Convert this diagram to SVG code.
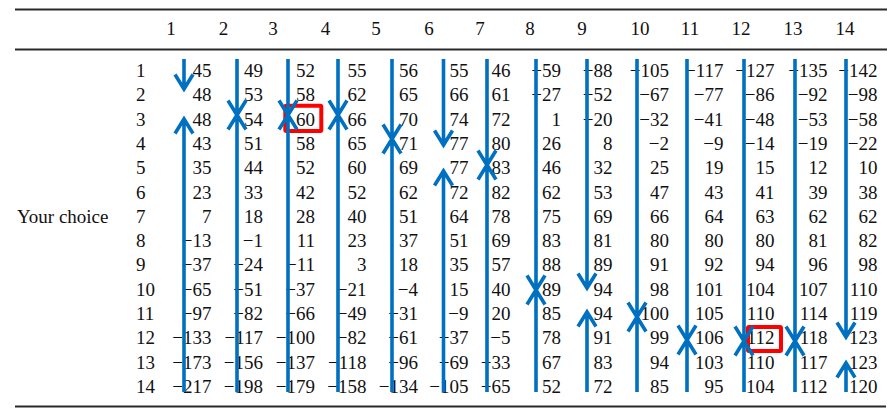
<svg xmlns="http://www.w3.org/2000/svg" width="890" height="413" viewBox="0 0 890 413">
<style>
text{font-family:"Liberation Serif","Times New Roman",serif;font-size:19px;fill:#111}
.h{text-anchor:middle}
.v{text-anchor:end}
.rule{stroke:#2a2a2a;stroke-width:2;fill:none}
.arr{stroke:#0070C0;stroke-width:3.6;fill:none;stroke-linejoin:miter;stroke-linecap:butt}
.box{stroke:#FF0000;stroke-width:4;fill:none}
</style>
<rect width="890" height="413" fill="#fff"/>
<g id="rules">
<line class="rule" x1="15" y1="9.5" x2="887" y2="9.5"/>
<line class="rule" x1="15" y1="49.5" x2="887" y2="49.5"/>
<line class="rule" x1="15" y1="406.5" x2="886" y2="406.5"/>
</g>
<g id="header">
<text class="h" x="171" y="35">1</text>
<text class="h" x="223.5" y="35">2</text>
<text class="h" x="273" y="35">3</text>
<text class="h" x="325.5" y="35">4</text>
<text class="h" x="376" y="35">5</text>
<text class="h" x="429" y="35">6</text>
<text class="h" x="480" y="35">7</text>
<text class="h" x="530" y="35">8</text>
<text class="h" x="582" y="35">9</text>
<text class="h" x="640" y="35">10</text>
<text class="h" x="690" y="35">11</text>
<text class="h" x="741" y="35">12</text>
<text class="h" x="793" y="35">13</text>
<text class="h" x="845" y="35">14</text>
</g>
<g id="row-labels">
<text x="17" y="222.8">Your choice</text>
<text x="136" y="77">1</text>
<text x="136" y="101.3">2</text>
<text x="136" y="125.6">3</text>
<text x="136" y="149.9">4</text>
<text x="136" y="174.2">5</text>
<text x="136" y="198.5">6</text>
<text x="136" y="222.8">7</text>
<text x="136" y="247.1">8</text>
<text x="136" y="271.4">9</text>
<text x="136" y="295.7">10</text>
<text x="136" y="320">11</text>
<text x="136" y="344.3">12</text>
<text x="136" y="368.6">13</text>
<text x="136" y="392.9">14</text>
</g>
<g id="col1" class="col">
<text class="v" x="211.5" y="77">45</text><text class="v" x="211.5" y="101.3">48</text><text class="v" x="211.5" y="125.6">48</text><text class="v" x="211.5" y="149.9">43</text><text class="v" x="211.5" y="174.2">35</text><text class="v" x="211.5" y="198.5">23</text><text class="v" x="211.5" y="222.8">7</text><text class="v" x="211.5" y="247.1">−13</text><text class="v" x="211.5" y="271.4">−37</text><text class="v" x="211.5" y="295.7">−65</text><text class="v" x="211.5" y="320">−97</text><text class="v" x="211.5" y="344.3">−133</text><text class="v" x="211.5" y="368.6">−173</text><text class="v" x="211.5" y="392.9">−217</text>
</g>
<g id="col2" class="col">
<text class="v" x="263" y="77">49</text><text class="v" x="263" y="101.3">53</text><text class="v" x="263" y="125.6">54</text><text class="v" x="263" y="149.9">51</text><text class="v" x="263" y="174.2">44</text><text class="v" x="263" y="198.5">33</text><text class="v" x="263" y="222.8">18</text><text class="v" x="263" y="247.1">−1</text><text class="v" x="263" y="271.4">−24</text><text class="v" x="263" y="295.7">−51</text><text class="v" x="263" y="320">−82</text><text class="v" x="263" y="344.3">−117</text><text class="v" x="263" y="368.6">−156</text><text class="v" x="263" y="392.9">−198</text>
</g>
<g id="col3" class="col">
<text class="v" x="315" y="77">52</text><text class="v" x="315" y="101.3">58</text><text class="v" x="315" y="125.6">60</text><text class="v" x="315" y="149.9">58</text><text class="v" x="315" y="174.2">52</text><text class="v" x="315" y="198.5">42</text><text class="v" x="315" y="222.8">28</text><text class="v" x="315" y="247.1">11</text><text class="v" x="315" y="271.4">−11</text><text class="v" x="315" y="295.7">−37</text><text class="v" x="315" y="320">−66</text><text class="v" x="315" y="344.3">−100</text><text class="v" x="315" y="368.6">−137</text><text class="v" x="315" y="392.9">−179</text>
</g>
<g id="col4" class="col">
<text class="v" x="366.5" y="77">55</text><text class="v" x="366.5" y="101.3">62</text><text class="v" x="366.5" y="125.6">66</text><text class="v" x="366.5" y="149.9">65</text><text class="v" x="366.5" y="174.2">60</text><text class="v" x="366.5" y="198.5">52</text><text class="v" x="366.5" y="222.8">40</text><text class="v" x="366.5" y="247.1">23</text><text class="v" x="366.5" y="271.4">3</text><text class="v" x="366.5" y="295.7">−21</text><text class="v" x="366.5" y="320">−49</text><text class="v" x="366.5" y="344.3">−82</text><text class="v" x="366.5" y="368.6">−118</text><text class="v" x="366.5" y="392.9">−158</text>
</g>
<g id="col5" class="col">
<text class="v" x="418" y="77">56</text><text class="v" x="418" y="101.3">65</text><text class="v" x="418" y="125.6">70</text><text class="v" x="418" y="149.9">71</text><text class="v" x="418" y="174.2">69</text><text class="v" x="418" y="198.5">62</text><text class="v" x="418" y="222.8">51</text><text class="v" x="418" y="247.1">37</text><text class="v" x="418" y="271.4">18</text><text class="v" x="418" y="295.7">−4</text><text class="v" x="418" y="320">−31</text><text class="v" x="418" y="344.3">−61</text><text class="v" x="418" y="368.6">−96</text><text class="v" x="418" y="392.9">−134</text>
</g>
<g id="col6" class="col">
<text class="v" x="468.5" y="77">55</text><text class="v" x="468.5" y="101.3">66</text><text class="v" x="468.5" y="125.6">74</text><text class="v" x="468.5" y="149.9">77</text><text class="v" x="468.5" y="174.2">77</text><text class="v" x="468.5" y="198.5">72</text><text class="v" x="468.5" y="222.8">64</text><text class="v" x="468.5" y="247.1">51</text><text class="v" x="468.5" y="271.4">35</text><text class="v" x="468.5" y="295.7">15</text><text class="v" x="468.5" y="320">−9</text><text class="v" x="468.5" y="344.3">−37</text><text class="v" x="468.5" y="368.6">−69</text><text class="v" x="468.5" y="392.9">−105</text>
</g>
<g id="col7" class="col">
<text class="v" x="510.5" y="77">46</text><text class="v" x="510.5" y="101.3">61</text><text class="v" x="510.5" y="125.6">72</text><text class="v" x="510.5" y="149.9">80</text><text class="v" x="510.5" y="174.2">83</text><text class="v" x="510.5" y="198.5">82</text><text class="v" x="510.5" y="222.8">78</text><text class="v" x="510.5" y="247.1">69</text><text class="v" x="510.5" y="271.4">57</text><text class="v" x="510.5" y="295.7">40</text><text class="v" x="510.5" y="320">20</text><text class="v" x="510.5" y="344.3">−5</text><text class="v" x="510.5" y="368.6">−33</text><text class="v" x="510.5" y="392.9">−65</text>
</g>
<g id="col8" class="col">
<text class="v" x="561" y="77">−59</text><text class="v" x="561" y="101.3">−27</text><text class="v" x="561" y="125.6">1</text><text class="v" x="561" y="149.9">26</text><text class="v" x="561" y="174.2">46</text><text class="v" x="561" y="198.5">62</text><text class="v" x="561" y="222.8">75</text><text class="v" x="561" y="247.1">83</text><text class="v" x="561" y="271.4">88</text><text class="v" x="561" y="295.7">89</text><text class="v" x="561" y="320">85</text><text class="v" x="561" y="344.3">78</text><text class="v" x="561" y="368.6">67</text><text class="v" x="561" y="392.9">52</text>
</g>
<g id="col9" class="col">
<text class="v" x="612.5" y="77">−88</text><text class="v" x="612.5" y="101.3">−52</text><text class="v" x="612.5" y="125.6">−20</text><text class="v" x="612.5" y="149.9">8</text><text class="v" x="612.5" y="174.2">32</text><text class="v" x="612.5" y="198.5">53</text><text class="v" x="612.5" y="222.8">69</text><text class="v" x="612.5" y="247.1">81</text><text class="v" x="612.5" y="271.4">89</text><text class="v" x="612.5" y="295.7">94</text><text class="v" x="612.5" y="320">94</text><text class="v" x="612.5" y="344.3">91</text><text class="v" x="612.5" y="368.6">83</text><text class="v" x="612.5" y="392.9">72</text>
</g>
<g id="col10" class="col">
<text class="v" x="669" y="77">−105</text><text class="v" x="669" y="101.3">−67</text><text class="v" x="669" y="125.6">−32</text><text class="v" x="669" y="149.9">−2</text><text class="v" x="669" y="174.2">25</text><text class="v" x="669" y="198.5">47</text><text class="v" x="669" y="222.8">66</text><text class="v" x="669" y="247.1">80</text><text class="v" x="669" y="271.4">91</text><text class="v" x="669" y="295.7">98</text><text class="v" x="669" y="320">100</text><text class="v" x="669" y="344.3">99</text><text class="v" x="669" y="368.6">94</text><text class="v" x="669" y="392.9">85</text>
</g>
<g id="col11" class="col">
<text class="v" x="723.5" y="77">−117</text><text class="v" x="723.5" y="101.3">−77</text><text class="v" x="723.5" y="125.6">−41</text><text class="v" x="723.5" y="149.9">−9</text><text class="v" x="723.5" y="174.2">19</text><text class="v" x="723.5" y="198.5">43</text><text class="v" x="723.5" y="222.8">64</text><text class="v" x="723.5" y="247.1">80</text><text class="v" x="723.5" y="271.4">92</text><text class="v" x="723.5" y="295.7">101</text><text class="v" x="723.5" y="320">105</text><text class="v" x="723.5" y="344.3">106</text><text class="v" x="723.5" y="368.6">103</text><text class="v" x="723.5" y="392.9">95</text>
</g>
<g id="col12" class="col">
<text class="v" x="774.5" y="77">−127</text><text class="v" x="774.5" y="101.3">−86</text><text class="v" x="774.5" y="125.6">−48</text><text class="v" x="774.5" y="149.9">−14</text><text class="v" x="774.5" y="174.2">15</text><text class="v" x="774.5" y="198.5">41</text><text class="v" x="774.5" y="222.8">63</text><text class="v" x="774.5" y="247.1">80</text><text class="v" x="774.5" y="271.4">94</text><text class="v" x="774.5" y="295.7">104</text><text class="v" x="774.5" y="320">110</text><text class="v" x="774.5" y="344.3">112</text><text class="v" x="774.5" y="368.6">110</text><text class="v" x="774.5" y="392.9">104</text>
</g>
<g id="col13" class="col">
<text class="v" x="827.5" y="77">−135</text><text class="v" x="827.5" y="101.3">−92</text><text class="v" x="827.5" y="125.6">−53</text><text class="v" x="827.5" y="149.9">−19</text><text class="v" x="827.5" y="174.2">12</text><text class="v" x="827.5" y="198.5">39</text><text class="v" x="827.5" y="222.8">62</text><text class="v" x="827.5" y="247.1">81</text><text class="v" x="827.5" y="271.4">96</text><text class="v" x="827.5" y="295.7">107</text><text class="v" x="827.5" y="320">114</text><text class="v" x="827.5" y="344.3">118</text><text class="v" x="827.5" y="368.6">117</text><text class="v" x="827.5" y="392.9">112</text>
</g>
<g id="col14" class="col">
<text class="v" x="877.5" y="77">−142</text><text class="v" x="877.5" y="101.3">−98</text><text class="v" x="877.5" y="125.6">−58</text><text class="v" x="877.5" y="149.9">−22</text><text class="v" x="877.5" y="174.2">10</text><text class="v" x="877.5" y="198.5">38</text><text class="v" x="877.5" y="222.8">62</text><text class="v" x="877.5" y="247.1">82</text><text class="v" x="877.5" y="271.4">98</text><text class="v" x="877.5" y="295.7">110</text><text class="v" x="877.5" y="320">119</text><text class="v" x="877.5" y="344.3">123</text><text class="v" x="877.5" y="368.6">123</text><text class="v" x="877.5" y="392.9">120</text>
</g>
<g id="highlights">
<rect class="box" x="285.3" y="105.8" width="36" height="25.2" rx="1"/>
<rect class="box" x="748" y="327" width="33" height="24" rx="1"/>
</g>
<g id="connectors">
<path class="arr" d="M184 59V89M175 74.5L184 89L193 74.5M184 392V119M175 133.5L184 119L193 133.5"/>
<path class="arr" d="M237 59V392M228 100.5L237 115L246 100.5M228 129.5L237 115L246 129.5"/>
<path class="arr" d="M288 59V392M279 100.5L288 115L297 100.5M279 129.5L288 115L297 129.5"/>
<path class="arr" d="M338 59V392M329 100.5L338 115L347 100.5M329 129.5L338 115L347 129.5"/>
<path class="arr" d="M392 59V392M383 124.5L392 139L401 124.5M383 153.5L392 139L401 153.5"/>
<path class="arr" d="M443.5 59V145M434.5 130.5L443.5 145L452.5 130.5M443.5 392V171M434.5 185.5L443.5 171L452.5 185.5"/>
<path class="arr" d="M487 59V392M478 150.5L487 165L496 150.5M478 179.5L487 165L496 179.5"/>
<path class="arr" d="M536 59V392M527 275.5L536 290L545 275.5M527 304.5L536 290L545 304.5"/>
<path class="arr" d="M587 59V288M578 273.5L587 288L596 273.5M587 392V312M578 326.5L587 312L596 326.5"/>
<path class="arr" d="M637 59V392M628 302.5L637 317L646 302.5M628 331.5L637 317L646 331.5"/>
<path class="arr" d="M687 59V392M678 325.5L687 340L696 325.5M678 354.5L687 340L696 354.5"/>
<path class="arr" d="M744 59V392M735 326.5L744 341L753 326.5M735 355.5L744 341L753 355.5"/>
<path class="arr" d="M795 59V392M786 326.5L795 341L804 326.5M786 355.5L795 341L804 355.5"/>
<path class="arr" d="M846 59V337M837 322.5L846 337L855 322.5M846 392V363M837 377.5L846 363L855 377.5"/>
</g>
</svg>
